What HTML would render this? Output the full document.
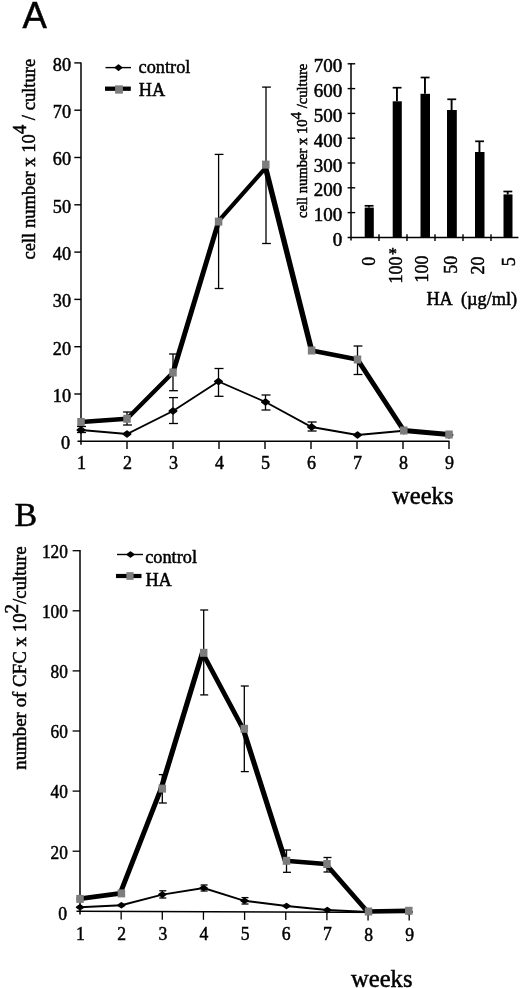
<!DOCTYPE html>
<html><head><meta charset="utf-8"><title>Figure</title>
<style>
html,body{margin:0;padding:0;background:#fff;}
body{width:520px;height:988px;overflow:hidden;font-family:"Liberation Serif",serif;}
svg{display:block;}
text{fill:#000;stroke:#000;stroke-width:0.5px;}
</style></head><body>
<svg width="520" height="988" viewBox="0 0 520 988">
<defs><filter id="soft" x="0" y="0" width="520" height="988" filterUnits="userSpaceOnUse"><feGaussianBlur stdDeviation="0.38"/></filter></defs>
<rect width="520" height="988" fill="#fff"/>
<g filter="url(#soft)">
<text transform="translate(22.50,28.00) scale(1.0,1)" font-size="36.5" text-anchor="start" font-family='"Liberation Sans", sans-serif' >A</text>
<line x1="81.00" y1="62.60" x2="81.00" y2="444.80" stroke="#000" stroke-width="1.5"/>
<line x1="77.50" y1="441.30" x2="449.50" y2="441.30" stroke="#000" stroke-width="1.5"/>
<line x1="74.30" y1="394.00" x2="81.00" y2="394.00" stroke="#000" stroke-width="1.4"/>
<text transform="translate(71.00,401.90) scale(0.93,1)" font-size="19.6" text-anchor="end" font-family='"Liberation Serif", serif' >10</text>
<line x1="74.30" y1="346.70" x2="81.00" y2="346.70" stroke="#000" stroke-width="1.4"/>
<text transform="translate(71.00,354.60) scale(0.93,1)" font-size="19.6" text-anchor="end" font-family='"Liberation Serif", serif' >20</text>
<line x1="74.30" y1="299.40" x2="81.00" y2="299.40" stroke="#000" stroke-width="1.4"/>
<text transform="translate(71.00,307.30) scale(0.93,1)" font-size="19.6" text-anchor="end" font-family='"Liberation Serif", serif' >30</text>
<line x1="74.30" y1="252.10" x2="81.00" y2="252.10" stroke="#000" stroke-width="1.4"/>
<text transform="translate(71.00,260.00) scale(0.93,1)" font-size="19.6" text-anchor="end" font-family='"Liberation Serif", serif' >40</text>
<line x1="74.30" y1="204.80" x2="81.00" y2="204.80" stroke="#000" stroke-width="1.4"/>
<text transform="translate(71.00,212.70) scale(0.93,1)" font-size="19.6" text-anchor="end" font-family='"Liberation Serif", serif' >50</text>
<line x1="74.30" y1="157.50" x2="81.00" y2="157.50" stroke="#000" stroke-width="1.4"/>
<text transform="translate(71.00,165.40) scale(0.93,1)" font-size="19.6" text-anchor="end" font-family='"Liberation Serif", serif' >60</text>
<line x1="74.30" y1="110.20" x2="81.00" y2="110.20" stroke="#000" stroke-width="1.4"/>
<text transform="translate(71.00,118.10) scale(0.93,1)" font-size="19.6" text-anchor="end" font-family='"Liberation Serif", serif' >70</text>
<line x1="74.30" y1="62.90" x2="81.00" y2="62.90" stroke="#000" stroke-width="1.4"/>
<text transform="translate(71.00,70.80) scale(0.93,1)" font-size="19.6" text-anchor="end" font-family='"Liberation Serif", serif' >80</text>
<text transform="translate(70.00,449.30) scale(0.93,1)" font-size="19.6" text-anchor="end" font-family='"Liberation Serif", serif' >0</text>
<text transform="translate(81.40,469.40) scale(0.93,1)" font-size="19.4" text-anchor="middle" font-family='"Liberation Serif", serif' >1</text>
<line x1="127.00" y1="441.30" x2="127.00" y2="449.00" stroke="#000" stroke-width="1.4"/>
<text transform="translate(127.40,469.40) scale(0.93,1)" font-size="19.4" text-anchor="middle" font-family='"Liberation Serif", serif' >2</text>
<line x1="173.00" y1="441.30" x2="173.00" y2="449.00" stroke="#000" stroke-width="1.4"/>
<text transform="translate(173.40,469.40) scale(0.93,1)" font-size="19.4" text-anchor="middle" font-family='"Liberation Serif", serif' >3</text>
<line x1="219.00" y1="441.30" x2="219.00" y2="449.00" stroke="#000" stroke-width="1.4"/>
<text transform="translate(219.40,469.40) scale(0.93,1)" font-size="19.4" text-anchor="middle" font-family='"Liberation Serif", serif' >4</text>
<line x1="265.00" y1="441.30" x2="265.00" y2="449.00" stroke="#000" stroke-width="1.4"/>
<text transform="translate(265.40,469.40) scale(0.93,1)" font-size="19.4" text-anchor="middle" font-family='"Liberation Serif", serif' >5</text>
<line x1="311.00" y1="441.30" x2="311.00" y2="449.00" stroke="#000" stroke-width="1.4"/>
<text transform="translate(311.40,469.40) scale(0.93,1)" font-size="19.4" text-anchor="middle" font-family='"Liberation Serif", serif' >6</text>
<line x1="357.00" y1="441.30" x2="357.00" y2="449.00" stroke="#000" stroke-width="1.4"/>
<text transform="translate(357.40,469.40) scale(0.93,1)" font-size="19.4" text-anchor="middle" font-family='"Liberation Serif", serif' >7</text>
<line x1="403.00" y1="441.30" x2="403.00" y2="449.00" stroke="#000" stroke-width="1.4"/>
<text transform="translate(403.40,469.40) scale(0.93,1)" font-size="19.4" text-anchor="middle" font-family='"Liberation Serif", serif' >8</text>
<line x1="449.00" y1="441.30" x2="449.00" y2="449.00" stroke="#000" stroke-width="1.4"/>
<text transform="translate(449.40,469.40) scale(0.93,1)" font-size="19.4" text-anchor="middle" font-family='"Liberation Serif", serif' >9</text>
<text transform="translate(392.00,504.00) scale(1.0,1)" font-size="24.6" text-anchor="start" font-family='"Liberation Serif", serif' >weeks</text>
<text transform="translate(34.8,259.6) rotate(-90)" font-size="18.6" font-family='"Liberation Serif", serif'>cell number x 10<tspan dy="-8.6">4</tspan><tspan dy="8.6"> / culture</tspan></text>
<line x1="105.50" y1="67.60" x2="131.00" y2="67.60" stroke="#000" stroke-width="1.4"/>
<path d="M115.50,67.60 L118.50,65.25 L121.50,67.60 L118.50,69.95Z" fill="#000" stroke="#000" stroke-width="1.8" stroke-linejoin="round"/>
<line x1="105.00" y1="88.70" x2="130.80" y2="88.70" stroke="#000" stroke-width="4.3"/>
<rect x="115.10" y="85.35" width="7.8" height="8.3" fill="#7d7d7d"/>
<text transform="translate(138.60,73.40) scale(1.0,1)" font-size="18.3" text-anchor="start" font-family='"Liberation Serif", serif' >control</text>
<text transform="translate(138.80,96.00) scale(1.0,1)" font-size="18.3" text-anchor="start" font-family='"Liberation Serif", serif' >HA</text>
<line x1="127.00" y1="412.00" x2="127.00" y2="425.00" stroke="#000" stroke-width="1.3"/>
<line x1="123.10" y1="412.00" x2="131.90" y2="412.00" stroke="#000" stroke-width="1.3"/>
<line x1="123.10" y1="425.00" x2="131.90" y2="425.00" stroke="#000" stroke-width="1.3"/>
<line x1="173.00" y1="354.00" x2="173.00" y2="390.70" stroke="#000" stroke-width="1.3"/>
<line x1="169.10" y1="354.00" x2="177.90" y2="354.00" stroke="#000" stroke-width="1.3"/>
<line x1="169.10" y1="390.70" x2="177.90" y2="390.70" stroke="#000" stroke-width="1.3"/>
<line x1="218.60" y1="154.40" x2="218.60" y2="288.50" stroke="#000" stroke-width="1.3"/>
<line x1="214.70" y1="154.40" x2="223.50" y2="154.40" stroke="#000" stroke-width="1.3"/>
<line x1="214.70" y1="288.50" x2="223.50" y2="288.50" stroke="#000" stroke-width="1.3"/>
<line x1="266.00" y1="87.10" x2="266.00" y2="243.50" stroke="#000" stroke-width="1.3"/>
<line x1="262.10" y1="87.10" x2="270.90" y2="87.10" stroke="#000" stroke-width="1.3"/>
<line x1="262.10" y1="243.50" x2="270.90" y2="243.50" stroke="#000" stroke-width="1.3"/>
<line x1="357.50" y1="346.00" x2="357.50" y2="374.50" stroke="#000" stroke-width="1.3"/>
<line x1="353.60" y1="346.00" x2="362.40" y2="346.00" stroke="#000" stroke-width="1.3"/>
<line x1="353.60" y1="374.50" x2="362.40" y2="374.50" stroke="#000" stroke-width="1.3"/>
<line x1="81.00" y1="426.50" x2="81.00" y2="432.50" stroke="#000" stroke-width="1.3"/>
<line x1="77.00" y1="426.50" x2="86.00" y2="426.50" stroke="#000" stroke-width="1.3"/>
<line x1="77.00" y1="432.50" x2="86.00" y2="432.50" stroke="#000" stroke-width="1.3"/>
<line x1="173.00" y1="397.60" x2="173.00" y2="423.50" stroke="#000" stroke-width="1.3"/>
<line x1="169.00" y1="397.60" x2="178.00" y2="397.60" stroke="#000" stroke-width="1.3"/>
<line x1="169.00" y1="423.50" x2="178.00" y2="423.50" stroke="#000" stroke-width="1.3"/>
<line x1="218.50" y1="368.50" x2="218.50" y2="396.30" stroke="#000" stroke-width="1.3"/>
<line x1="214.50" y1="368.50" x2="223.50" y2="368.50" stroke="#000" stroke-width="1.3"/>
<line x1="214.50" y1="396.30" x2="223.50" y2="396.30" stroke="#000" stroke-width="1.3"/>
<line x1="265.50" y1="395.00" x2="265.50" y2="410.00" stroke="#000" stroke-width="1.3"/>
<line x1="261.50" y1="395.00" x2="270.50" y2="395.00" stroke="#000" stroke-width="1.3"/>
<line x1="261.50" y1="410.00" x2="270.50" y2="410.00" stroke="#000" stroke-width="1.3"/>
<line x1="311.60" y1="422.00" x2="311.60" y2="431.00" stroke="#000" stroke-width="1.3"/>
<line x1="307.60" y1="422.00" x2="316.60" y2="422.00" stroke="#000" stroke-width="1.3"/>
<line x1="307.60" y1="431.00" x2="316.60" y2="431.00" stroke="#000" stroke-width="1.3"/>
<polyline points="81.00,430.00 127.00,434.00 173.00,411.00 218.50,381.50 265.50,402.00 311.60,427.00 357.50,435.00 403.80,430.80 449.00,435.00" fill="none" stroke="#000" stroke-width="1.9" stroke-linejoin="miter" stroke-linecap="butt"/>
<line x1="81.00" y1="422.00" x2="127.00" y2="418.80" stroke="#000" stroke-width="4.5" stroke-linecap="round"/>
<line x1="127.00" y1="418.80" x2="173.00" y2="372.50" stroke="#000" stroke-width="4.3" stroke-linecap="round"/>
<line x1="173.00" y1="372.50" x2="218.90" y2="220.60" stroke="#000" stroke-width="5.0" stroke-linecap="round"/>
<line x1="218.90" y1="220.60" x2="265.60" y2="167.80" stroke="#000" stroke-width="4.2" stroke-linecap="round"/>
<line x1="265.60" y1="167.80" x2="311.60" y2="350.50" stroke="#000" stroke-width="5.4" stroke-linecap="round"/>
<line x1="311.60" y1="350.50" x2="357.50" y2="359.50" stroke="#000" stroke-width="4.8" stroke-linecap="round"/>
<line x1="357.50" y1="359.50" x2="403.80" y2="430.50" stroke="#000" stroke-width="5.0" stroke-linecap="round"/>
<line x1="403.80" y1="430.50" x2="449.00" y2="434.50" stroke="#000" stroke-width="4.8" stroke-linecap="round"/>
<path d="M77.40,430.00 L81.00,427.16 L84.60,430.00 L81.00,432.84Z" fill="#000" stroke="#000" stroke-width="1.8" stroke-linejoin="round"/>
<path d="M123.40,434.00 L127.00,431.16 L130.60,434.00 L127.00,436.84Z" fill="#000" stroke="#000" stroke-width="1.8" stroke-linejoin="round"/>
<path d="M169.40,411.00 L173.00,408.16 L176.60,411.00 L173.00,413.84Z" fill="#000" stroke="#000" stroke-width="1.8" stroke-linejoin="round"/>
<path d="M214.90,381.50 L218.50,378.66 L222.10,381.50 L218.50,384.34Z" fill="#000" stroke="#000" stroke-width="1.8" stroke-linejoin="round"/>
<path d="M261.90,402.00 L265.50,399.16 L269.10,402.00 L265.50,404.84Z" fill="#000" stroke="#000" stroke-width="1.8" stroke-linejoin="round"/>
<path d="M308.00,427.00 L311.60,424.16 L315.20,427.00 L311.60,429.84Z" fill="#000" stroke="#000" stroke-width="1.8" stroke-linejoin="round"/>
<path d="M353.90,435.00 L357.50,432.16 L361.10,435.00 L357.50,437.84Z" fill="#000" stroke="#000" stroke-width="1.8" stroke-linejoin="round"/>
<path d="M400.20,430.80 L403.80,427.96 L407.40,430.80 L403.80,433.64Z" fill="#000" stroke="#000" stroke-width="1.8" stroke-linejoin="round"/>
<path d="M445.40,435.00 L449.00,432.16 L452.60,435.00 L449.00,437.84Z" fill="#000" stroke="#000" stroke-width="1.8" stroke-linejoin="round"/>
<rect x="77.25" y="418.00" width="7.5" height="8.0" fill="#7d7d7d"/>
<rect x="123.25" y="414.80" width="7.5" height="8.0" fill="#7d7d7d"/>
<rect x="169.25" y="368.50" width="7.5" height="8.0" fill="#7d7d7d"/>
<rect x="214.85" y="217.60" width="7.5" height="8.0" fill="#7d7d7d"/>
<rect x="262.05" y="160.60" width="7.5" height="8.0" fill="#7d7d7d"/>
<rect x="307.85" y="346.50" width="7.5" height="8.0" fill="#7d7d7d"/>
<rect x="353.75" y="355.50" width="7.5" height="8.0" fill="#7d7d7d"/>
<rect x="400.05" y="426.50" width="7.5" height="8.0" fill="#7d7d7d"/>
<rect x="445.25" y="430.50" width="7.5" height="8.0" fill="#7d7d7d"/>
<line x1="351.00" y1="63.20" x2="351.00" y2="240.60" stroke="#000" stroke-width="1.5"/>
<line x1="347.60" y1="237.40" x2="518.40" y2="237.40" stroke="#000" stroke-width="1.5"/>
<text transform="translate(342.20,245.90) scale(1.0,1)" font-size="19" text-anchor="end" font-family='"Liberation Serif", serif' >0</text>
<line x1="347.60" y1="212.60" x2="355.20" y2="212.60" stroke="#000" stroke-width="1.4"/>
<text transform="translate(342.20,221.10) scale(1.0,1)" font-size="19" text-anchor="end" font-family='"Liberation Serif", serif' >100</text>
<line x1="347.60" y1="187.80" x2="355.20" y2="187.80" stroke="#000" stroke-width="1.4"/>
<text transform="translate(342.20,196.30) scale(1.0,1)" font-size="19" text-anchor="end" font-family='"Liberation Serif", serif' >200</text>
<line x1="347.60" y1="163.00" x2="355.20" y2="163.00" stroke="#000" stroke-width="1.4"/>
<text transform="translate(342.20,171.50) scale(1.0,1)" font-size="19" text-anchor="end" font-family='"Liberation Serif", serif' >300</text>
<line x1="347.60" y1="138.20" x2="355.20" y2="138.20" stroke="#000" stroke-width="1.4"/>
<text transform="translate(342.20,146.70) scale(1.0,1)" font-size="19" text-anchor="end" font-family='"Liberation Serif", serif' >400</text>
<line x1="347.60" y1="113.40" x2="355.20" y2="113.40" stroke="#000" stroke-width="1.4"/>
<text transform="translate(342.20,121.90) scale(1.0,1)" font-size="19" text-anchor="end" font-family='"Liberation Serif", serif' >500</text>
<line x1="347.60" y1="88.60" x2="355.20" y2="88.60" stroke="#000" stroke-width="1.4"/>
<text transform="translate(342.20,97.10) scale(1.0,1)" font-size="19" text-anchor="end" font-family='"Liberation Serif", serif' >600</text>
<line x1="347.60" y1="63.80" x2="355.20" y2="63.80" stroke="#000" stroke-width="1.4"/>
<text transform="translate(342.20,72.30) scale(1.0,1)" font-size="19" text-anchor="end" font-family='"Liberation Serif", serif' >700</text>
<line x1="379.00" y1="234.30" x2="379.00" y2="241.00" stroke="#000" stroke-width="1.4"/>
<line x1="407.00" y1="234.30" x2="407.00" y2="241.00" stroke="#000" stroke-width="1.4"/>
<line x1="435.00" y1="234.30" x2="435.00" y2="241.00" stroke="#000" stroke-width="1.4"/>
<line x1="463.00" y1="234.30" x2="463.00" y2="241.00" stroke="#000" stroke-width="1.4"/>
<line x1="491.00" y1="234.30" x2="491.00" y2="241.00" stroke="#000" stroke-width="1.4"/>
<rect x="364.7" y="207.6" width="9.10" height="29.80" fill="#000"/>
<line x1="368.95" y1="205.80" x2="368.95" y2="207.60" stroke="#000" stroke-width="1.9"/>
<line x1="364.65" y1="205.80" x2="373.55" y2="205.80" stroke="#000" stroke-width="1.7"/>
<rect x="392.7" y="101.3" width="9.10" height="136.10" fill="#000"/>
<line x1="396.95" y1="87.70" x2="396.95" y2="101.30" stroke="#000" stroke-width="1.9"/>
<line x1="392.65" y1="87.70" x2="401.55" y2="87.70" stroke="#000" stroke-width="1.7"/>
<rect x="420.5" y="93.8" width="9.50" height="143.60" fill="#000"/>
<line x1="424.95" y1="77.50" x2="424.95" y2="93.80" stroke="#000" stroke-width="1.9"/>
<line x1="420.65" y1="77.50" x2="429.55" y2="77.50" stroke="#000" stroke-width="1.7"/>
<rect x="447" y="110" width="9.80" height="127.40" fill="#000"/>
<line x1="451.60" y1="99.30" x2="451.60" y2="110.00" stroke="#000" stroke-width="1.9"/>
<line x1="447.30" y1="99.30" x2="456.20" y2="99.30" stroke="#000" stroke-width="1.7"/>
<rect x="475" y="152" width="9.50" height="85.40" fill="#000"/>
<line x1="479.45" y1="141.30" x2="479.45" y2="152.00" stroke="#000" stroke-width="1.9"/>
<line x1="475.15" y1="141.30" x2="484.05" y2="141.30" stroke="#000" stroke-width="1.7"/>
<rect x="503.5" y="194.4" width="9.00" height="43.00" fill="#000"/>
<line x1="507.70" y1="191.50" x2="507.70" y2="194.40" stroke="#000" stroke-width="1.9"/>
<line x1="503.40" y1="191.50" x2="512.30" y2="191.50" stroke="#000" stroke-width="1.7"/>
<text transform="translate(375.4,256.8) rotate(-90)" font-size="18" text-anchor="end" font-family='"Liberation Serif", serif'>0</text>
<text transform="translate(402.1,256.6) rotate(-90)" font-size="18" text-anchor="end" font-family='"Liberation Serif", serif'>100</text>
<text transform="translate(428.0,255.4) rotate(-90)" font-size="18" text-anchor="end" font-family='"Liberation Serif", serif'>100</text>
<text transform="translate(456.8,255.8) rotate(-90)" font-size="18" text-anchor="end" font-family='"Liberation Serif", serif'>50</text>
<text transform="translate(484.2,256.5) rotate(-90)" font-size="18" text-anchor="end" font-family='"Liberation Serif", serif'>20</text>
<text transform="translate(514.7,257.3) rotate(-90)" font-size="18" text-anchor="end" font-family='"Liberation Serif", serif'>5</text>
<text transform="translate(388.40,258.80) scale(1.0,1)" font-size="17" text-anchor="start" font-family='"Liberation Serif", serif' >*</text>
<text x="426.4" y="304.6" font-size="18.3" font-family='"Liberation Serif", serif' xml:space="preserve" style="white-space:pre">HA  (µg/ml)</text>
<text transform="translate(306.5,217.9) rotate(-90)" font-size="14.6" stroke-width="0.45" font-family='"Liberation Serif", serif'>cell number x 10<tspan dy="-6" font-size="15">4</tspan><tspan dy="6"> /culture</tspan></text>
<text transform="translate(14.50,526.00) scale(1.0,1)" font-size="34" text-anchor="start" font-family='"Liberation Serif", serif' >B</text>
<line x1="80.00" y1="550.00" x2="80.00" y2="914.60" stroke="#000" stroke-width="1.5"/>
<line x1="76.50" y1="911.29" x2="409.50" y2="912.60" stroke="#000" stroke-width="1.5"/>
<line x1="72.60" y1="851.20" x2="80.00" y2="851.20" stroke="#000" stroke-width="1.3"/>
<text transform="translate(67.90,858.50) scale(0.91,1)" font-size="19" text-anchor="end" font-family='"Liberation Serif", serif' >20</text>
<line x1="72.60" y1="791.10" x2="80.00" y2="791.10" stroke="#000" stroke-width="1.3"/>
<text transform="translate(67.90,798.40) scale(0.91,1)" font-size="19" text-anchor="end" font-family='"Liberation Serif", serif' >40</text>
<line x1="72.60" y1="731.00" x2="80.00" y2="731.00" stroke="#000" stroke-width="1.3"/>
<text transform="translate(67.90,738.30) scale(0.91,1)" font-size="19" text-anchor="end" font-family='"Liberation Serif", serif' >60</text>
<line x1="72.60" y1="670.90" x2="80.00" y2="670.90" stroke="#000" stroke-width="1.3"/>
<text transform="translate(67.90,678.20) scale(0.91,1)" font-size="19" text-anchor="end" font-family='"Liberation Serif", serif' >80</text>
<line x1="72.60" y1="610.80" x2="80.00" y2="610.80" stroke="#000" stroke-width="1.3"/>
<text transform="translate(67.90,618.10) scale(0.91,1)" font-size="19" text-anchor="end" font-family='"Liberation Serif", serif' >100</text>
<line x1="72.60" y1="550.70" x2="80.00" y2="550.70" stroke="#000" stroke-width="1.3"/>
<text transform="translate(67.90,558.00) scale(0.91,1)" font-size="19" text-anchor="end" font-family='"Liberation Serif", serif' >120</text>
<text transform="translate(67.00,919.60) scale(0.93,1)" font-size="19" text-anchor="end" font-family='"Liberation Serif", serif' >0</text>
<text transform="translate(80.50,939.90) scale(0.93,1)" font-size="19" text-anchor="middle" font-family='"Liberation Serif", serif' >1</text>
<line x1="121.15" y1="911.46" x2="121.15" y2="919.46" stroke="#000" stroke-width="1.3"/>
<text transform="translate(121.65,940.00) scale(0.93,1)" font-size="19" text-anchor="middle" font-family='"Liberation Serif", serif' >2</text>
<line x1="162.30" y1="911.63" x2="162.30" y2="919.63" stroke="#000" stroke-width="1.3"/>
<text transform="translate(162.80,940.10) scale(0.93,1)" font-size="19" text-anchor="middle" font-family='"Liberation Serif", serif' >3</text>
<line x1="203.45" y1="911.79" x2="203.45" y2="919.79" stroke="#000" stroke-width="1.3"/>
<text transform="translate(203.95,940.19) scale(0.93,1)" font-size="19" text-anchor="middle" font-family='"Liberation Serif", serif' >4</text>
<line x1="244.60" y1="911.95" x2="244.60" y2="919.95" stroke="#000" stroke-width="1.3"/>
<text transform="translate(245.10,940.29) scale(0.93,1)" font-size="19" text-anchor="middle" font-family='"Liberation Serif", serif' >5</text>
<line x1="285.75" y1="912.11" x2="285.75" y2="920.11" stroke="#000" stroke-width="1.3"/>
<text transform="translate(286.25,940.39) scale(0.93,1)" font-size="19" text-anchor="middle" font-family='"Liberation Serif", serif' >6</text>
<line x1="326.90" y1="912.28" x2="326.90" y2="920.28" stroke="#000" stroke-width="1.3"/>
<text transform="translate(327.40,940.49) scale(0.93,1)" font-size="19" text-anchor="middle" font-family='"Liberation Serif", serif' >7</text>
<line x1="368.05" y1="912.44" x2="368.05" y2="920.44" stroke="#000" stroke-width="1.3"/>
<text transform="translate(368.55,940.58) scale(0.93,1)" font-size="19" text-anchor="middle" font-family='"Liberation Serif", serif' >8</text>
<line x1="409.20" y1="912.60" x2="409.20" y2="920.60" stroke="#000" stroke-width="1.3"/>
<text transform="translate(409.70,940.68) scale(0.93,1)" font-size="19" text-anchor="middle" font-family='"Liberation Serif", serif' >9</text>
<text transform="translate(351.00,986.50) scale(1.0,1)" font-size="24.6" text-anchor="start" font-family='"Liberation Serif", serif' >weeks</text>
<text transform="translate(26.0,769.8) rotate(-90)" font-size="18.9" font-family='"Liberation Serif", serif'>number of CFC x 10<tspan dy="-8">2</tspan><tspan dy="8">/culture</tspan></text>
<line x1="117.00" y1="554.50" x2="143.00" y2="554.50" stroke="#000" stroke-width="1.4"/>
<path d="M127.50,554.50 L130.50,552.15 L133.50,554.50 L130.50,556.85Z" fill="#000" stroke="#000" stroke-width="1.8" stroke-linejoin="round"/>
<line x1="116.00" y1="576.00" x2="141.50" y2="576.00" stroke="#000" stroke-width="4.2"/>
<rect x="126.40" y="572.15" width="7.2" height="7.7" fill="#7d7d7d"/>
<text transform="translate(145.20,562.50) scale(1.0,1)" font-size="18.3" text-anchor="start" font-family='"Liberation Serif", serif' >control</text>
<text transform="translate(145.40,585.50) scale(1.0,1)" font-size="18.3" text-anchor="start" font-family='"Liberation Serif", serif' >HA</text>
<line x1="162.30" y1="774.60" x2="162.30" y2="803.00" stroke="#000" stroke-width="1.3"/>
<line x1="158.80" y1="774.60" x2="166.80" y2="774.60" stroke="#000" stroke-width="1.3"/>
<line x1="158.80" y1="803.00" x2="166.80" y2="803.00" stroke="#000" stroke-width="1.3"/>
<line x1="203.70" y1="610.00" x2="203.70" y2="694.90" stroke="#000" stroke-width="1.3"/>
<line x1="200.20" y1="610.00" x2="208.20" y2="610.00" stroke="#000" stroke-width="1.3"/>
<line x1="200.20" y1="694.90" x2="208.20" y2="694.90" stroke="#000" stroke-width="1.3"/>
<line x1="244.30" y1="686.00" x2="244.30" y2="771.60" stroke="#000" stroke-width="1.3"/>
<line x1="240.80" y1="686.00" x2="248.80" y2="686.00" stroke="#000" stroke-width="1.3"/>
<line x1="240.80" y1="771.60" x2="248.80" y2="771.60" stroke="#000" stroke-width="1.3"/>
<line x1="286.50" y1="850.00" x2="286.50" y2="872.30" stroke="#000" stroke-width="1.3"/>
<line x1="283.00" y1="850.00" x2="291.00" y2="850.00" stroke="#000" stroke-width="1.3"/>
<line x1="283.00" y1="872.30" x2="291.00" y2="872.30" stroke="#000" stroke-width="1.3"/>
<line x1="327.00" y1="857.50" x2="327.00" y2="872.00" stroke="#000" stroke-width="1.3"/>
<line x1="323.50" y1="857.50" x2="331.50" y2="857.50" stroke="#000" stroke-width="1.3"/>
<line x1="323.50" y1="872.00" x2="331.50" y2="872.00" stroke="#000" stroke-width="1.3"/>
<line x1="162.30" y1="890.80" x2="162.30" y2="898.00" stroke="#000" stroke-width="1.3"/>
<line x1="159.30" y1="890.80" x2="166.30" y2="890.80" stroke="#000" stroke-width="1.3"/>
<line x1="159.30" y1="898.00" x2="166.30" y2="898.00" stroke="#000" stroke-width="1.3"/>
<line x1="203.60" y1="885.00" x2="203.60" y2="891.00" stroke="#000" stroke-width="1.3"/>
<line x1="200.60" y1="885.00" x2="207.60" y2="885.00" stroke="#000" stroke-width="1.3"/>
<line x1="200.60" y1="891.00" x2="207.60" y2="891.00" stroke="#000" stroke-width="1.3"/>
<line x1="244.50" y1="897.60" x2="244.50" y2="904.00" stroke="#000" stroke-width="1.3"/>
<line x1="241.50" y1="897.60" x2="248.50" y2="897.60" stroke="#000" stroke-width="1.3"/>
<line x1="241.50" y1="904.00" x2="248.50" y2="904.00" stroke="#000" stroke-width="1.3"/>
<polyline points="80.00,907.20 121.40,905.20 162.30,894.60 203.60,888.00 244.50,900.80 286.50,906.00 327.30,910.00 368.50,912.00 408.80,912.00" fill="none" stroke="#000" stroke-width="1.9" stroke-linejoin="miter" stroke-linecap="butt"/>
<line x1="78.80" y1="898.90" x2="120.20" y2="893.40" stroke="#000" stroke-width="4.6" stroke-linecap="round"/>
<line x1="120.20" y1="893.40" x2="161.10" y2="788.60" stroke="#000" stroke-width="5.0" stroke-linecap="round"/>
<line x1="161.10" y1="788.60" x2="202.50" y2="652.80" stroke="#000" stroke-width="5.2" stroke-linecap="round"/>
<line x1="202.50" y1="652.80" x2="243.10" y2="728.80" stroke="#000" stroke-width="4.75" stroke-linecap="round"/>
<line x1="243.10" y1="728.80" x2="285.30" y2="860.80" stroke="#000" stroke-width="5.2" stroke-linecap="round"/>
<line x1="285.30" y1="860.80" x2="325.80" y2="864.00" stroke="#000" stroke-width="4.6" stroke-linecap="round"/>
<line x1="325.80" y1="864.00" x2="367.30" y2="911.50" stroke="#000" stroke-width="4.8" stroke-linecap="round"/>
<line x1="367.30" y1="911.50" x2="407.60" y2="910.80" stroke="#000" stroke-width="4.6" stroke-linecap="round"/>
<path d="M76.70,907.20 L80.00,904.90 L83.30,907.20 L80.00,909.50Z" fill="#000" stroke="#000" stroke-width="1.8" stroke-linejoin="round"/>
<path d="M118.10,905.20 L121.40,902.90 L124.70,905.20 L121.40,907.50Z" fill="#000" stroke="#000" stroke-width="1.8" stroke-linejoin="round"/>
<path d="M159.00,894.60 L162.30,892.30 L165.60,894.60 L162.30,896.90Z" fill="#000" stroke="#000" stroke-width="1.8" stroke-linejoin="round"/>
<path d="M200.30,888.00 L203.60,885.70 L206.90,888.00 L203.60,890.30Z" fill="#000" stroke="#000" stroke-width="1.8" stroke-linejoin="round"/>
<path d="M241.20,900.80 L244.50,898.50 L247.80,900.80 L244.50,903.10Z" fill="#000" stroke="#000" stroke-width="1.8" stroke-linejoin="round"/>
<path d="M283.20,906.00 L286.50,903.70 L289.80,906.00 L286.50,908.30Z" fill="#000" stroke="#000" stroke-width="1.8" stroke-linejoin="round"/>
<path d="M324.00,910.00 L327.30,907.70 L330.60,910.00 L327.30,912.30Z" fill="#000" stroke="#000" stroke-width="1.8" stroke-linejoin="round"/>
<path d="M365.20,912.00 L368.50,909.70 L371.80,912.00 L368.50,914.30Z" fill="#000" stroke="#000" stroke-width="1.8" stroke-linejoin="round"/>
<path d="M405.50,912.00 L408.80,909.70 L412.10,912.00 L408.80,914.30Z" fill="#000" stroke="#000" stroke-width="1.8" stroke-linejoin="round"/>
<rect x="76.25" y="894.90" width="7.5" height="8.0" fill="#7d7d7d"/>
<rect x="117.65" y="889.40" width="7.5" height="8.0" fill="#7d7d7d"/>
<rect x="158.55" y="784.60" width="7.5" height="8.0" fill="#7d7d7d"/>
<rect x="199.95" y="648.80" width="7.5" height="8.0" fill="#7d7d7d"/>
<rect x="240.55" y="724.80" width="7.5" height="8.0" fill="#7d7d7d"/>
<rect x="282.75" y="856.80" width="7.5" height="8.0" fill="#7d7d7d"/>
<rect x="323.25" y="860.00" width="7.5" height="8.0" fill="#7d7d7d"/>
<rect x="364.75" y="907.50" width="7.5" height="8.0" fill="#7d7d7d"/>
<rect x="405.05" y="906.80" width="7.5" height="8.0" fill="#7d7d7d"/>
</g>
</svg>
</body></html>
